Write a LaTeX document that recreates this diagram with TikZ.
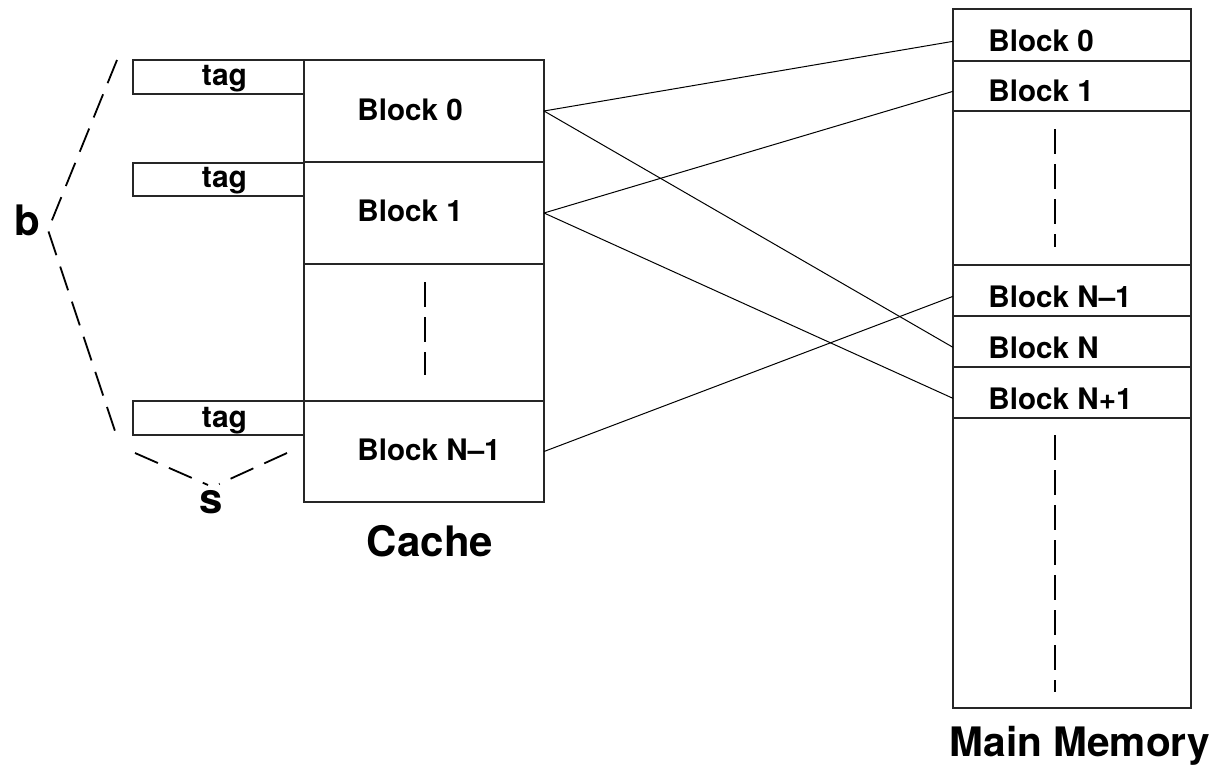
\documentclass[tikz,border=0pt]{standalone}
\usepackage{fontspec}
\setmainfont{TeX Gyre Heros}
\begin{document}
\begin{tikzpicture}[x=0.5pt,y=-0.5pt,
  cell/.style={draw=black!85, line width=0.7pt, inner sep=0pt, outer sep=0pt, minimum width=#1},
  celltxt/.style={anchor=base west, inner sep=0pt, font=\fontsize{14.8}{17}\selectfont\bfseries},
  tagtxt/.style={anchor=base, inner sep=0pt, font=\fontsize{15}{17}\selectfont\bfseries},
  title/.style={anchor=base, inner sep=0pt, font=\fontsize{21}{24}\selectfont\bfseries},
  link/.style={line width=0.5pt},
  gapline/.style={line width=1pt, dash pattern=on 12.5pt off 5pt},
  brace/.style={line width=0.9pt, dash pattern=on 12.5pt off 6pt}]
\useasboundingbox (0,0) rectangle (1224,765);

% ---- cache ----
\node[cell=120pt, minimum height=51pt]   (c0)  at (424,111)   {};
\node[cell=120pt, minimum height=51pt]   (c1)  at (424,213)   {};
\node[cell=120pt, minimum height=68.5pt] (cd)  at (424,332.5) {};
\node[cell=120pt, minimum height=50.5pt] (cn)  at (424,451.5) {};
\node[celltxt] (c0t) at (357,120) {Block 0};
\node[celltxt] (c1t) at (357,221) {Block 1};
\node[celltxt] (cnt) at (357,460) {Block N\textendash 1};
\coordinate (cda) at (425,282);
\coordinate (cdb) at (425,375);
\draw[gapline] (cda) -- (cdb);

% ---- tags ----
\node[cell=85.5pt, minimum height=17pt] (t0) at (218.5,77)  {};
\node[cell=85.5pt, minimum height=16.5pt] (t1) at (218.5,179.5) {};
\node[cell=85.5pt, minimum height=17pt] (t2) at (218.5,418) {};
\node[tagtxt] at (224.5,85)  {tag};
\node[tagtxt] at (224.5,187) {tag};
\node[tagtxt] at (224.5,427) {tag};

% ---- main memory ----
\node[cell=119pt, minimum height=26pt]   (m0)  at (1072,35)    {};
\node[cell=119pt, minimum height=25pt]   (m1)  at (1072,86)    {};
\node[cell=119pt, minimum height=77pt]   (md1) at (1072,188)   {};
\node[cell=119pt, minimum height=25.5pt] (mn1) at (1072,290.5) {};
\node[cell=119pt, minimum height=25.5pt] (mn)  at (1072,341.5) {};
\node[cell=119pt, minimum height=25.5pt] (mp1) at (1072,392.5) {};
\node[cell=119pt, minimum height=145pt]  (md2) at (1072,563)   {};
\node[celltxt] (m0t)  at (988,52)  {Block 0};
\node[celltxt] (m1t)  at (988,102) {Block 1};
\node[celltxt] (mn1t) at (988,307) {Block N\textendash 1};
\node[celltxt] (mnt)  at (988,358) {Block N};
\node[celltxt] (mp1t) at (988,409) {Block N+1};
\coordinate (mda) at (1055,129);
\coordinate (mdb) at (1055,247);
\coordinate (mdc) at (1055,435);
\coordinate (mdd) at (1055,692);
\draw[gapline] (mda) -- (mdb);
\draw[gapline] (mdc) -- (mdd);

% ---- mapping lines ----
\draw[link] (c0.east) -- (m0t.west -| m0.west);
\draw[link] (c0.east) -- (mnt.west -| mn.west);
\draw[link] (c1.east) -- (m1t.west -| m1.west);
\draw[link] (c1.east) -- (mp1t.west -| mp1.west);
\draw[link] (cn.east) -- (mn1t.west -| mn1.west);

% ---- captions ----
\node[title] (cap) at (430,556) {Cache};
\node[title, font=\fontsize{20.3}{24}\selectfont\bfseries] (mcap) at (1080,756) {Main Memory};

% ---- b and s braces ----
\node[title, font=\fontsize{21}{24}\selectfont\bfseries] (b) at (27,235) {b};
\node[title, font=\fontsize{21}{24}\selectfont\bfseries] (s) at (211,513) {s};
\coordinate (btop) at (117,60);
\coordinate (bmid) at (48,230);
\coordinate (bbot) at (117,437);
\draw[brace] (btop) -- (bmid) -- (bbot);
\coordinate (sl) at (135,453);
\coordinate (slend) at (208,485);
\coordinate (sr) at (287,453);
\coordinate (srend) at (219,484);
\draw[brace] (sl) -- (slend);
\draw[brace] (sr) -- (srend);
\end{tikzpicture}
\end{document}
